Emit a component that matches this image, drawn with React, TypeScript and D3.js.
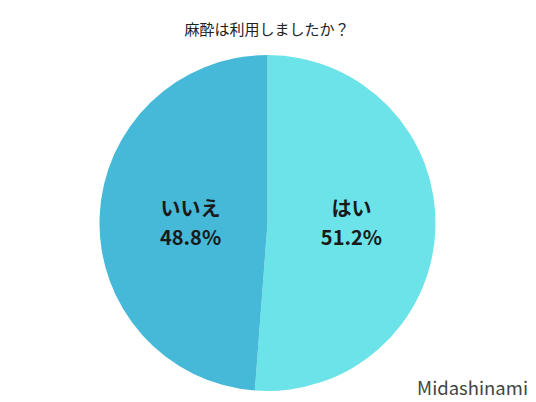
import React from "react";
import * as d3 from "d3";

const categories = ["はい", "いいえ"];
const values = [51.2, 48.8];
const colors = ["#6be3e8", "#45b9d7"];
const title = "麻酔は利用しましたか？";
const credit = "Midashinami";

export default function App() {
  const width = 536;
  const height = 402;
  const cx = 267.5;
  const cy = 223;
  const r = 168;
  const pie = d3.pie<number>().sort(null).value((d) => d)(values);
  const arc = d3.arc<d3.PieArcDatum<number>>().innerRadius(0).outerRadius(r);
  const font = "'Noto Sans CJK JP', 'Noto Sans', sans-serif";
  return (
    <svg width={width} height={height} style={{ position: "absolute", left: 0, top: 0 }}>
      <rect width={width} height={height} fill="#ffffff" />
      <text x={267} y={35} textAnchor="middle" fontSize={15} fill="#222" fontFamily={font}>
        {title}
      </text>
      <g transform={`translate(${cx},${cy})`}>
        {pie.map((p, i) => (
          <path key={i} d={arc(p) || ""} fill={colors[i]} />
        ))}
        {pie.map((p, i) => {
          const [x] = arc.centroid(p);
          const lx = x < 0 ? x + 7 : x;
          return (
            <g key={"l" + i} fontFamily={font} fontWeight="bold" fontSize={20} fill="#1a1a1a" textAnchor="middle">
              <text x={lx} y={-7}>{categories[i]}</text>
              <text x={lx} y={22}>{values[i].toFixed(1)}%</text>
            </g>
          );
        })}
      </g>
      <text x={528} y={395} textAnchor="end" fontSize={18.5} fill="#444" fontFamily={font}>
        {credit}
      </text>
    </svg>
  );
}
